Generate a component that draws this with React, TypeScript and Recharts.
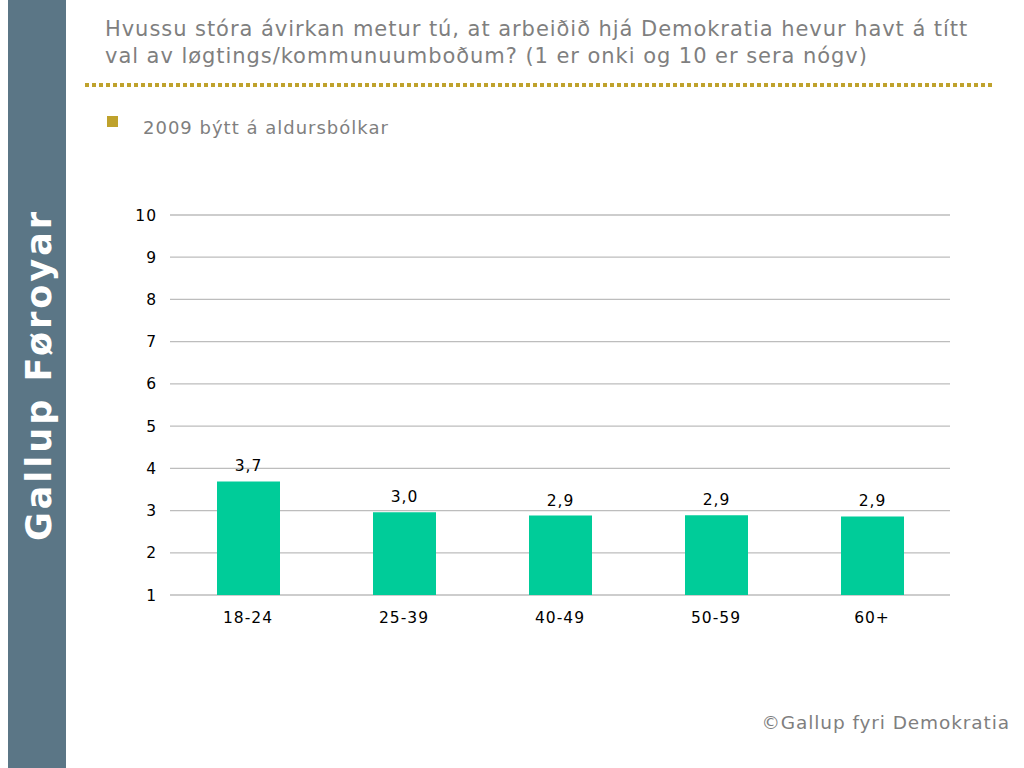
import { Bar, BarChart, CartesianGrid, LabelList, XAxis, YAxis } from "recharts";

const ageGroups: string[] = ["18-24", "25-39", "40-49", "50-59", "60+"];
const scores: number[] = [3.69, 2.96, 2.88, 2.89, 2.86];
const yTicks: number[] = [1, 2, 3, 4, 5, 6, 7, 8, 9, 10];

const data = ageGroups.map((name, i) => ({ name, value: scores[i] }));

const FONT = "'DejaVu Sans', Verdana, sans-serif";
const GRAY = "#7f7f7f";
const GOLD = "#bfa22c";

const fmt = (v: any) => Number(v).toFixed(1).replace(".", ",");

const tickStyle = { fill: "#000", fontSize: 15.5, fontFamily: FONT, letterSpacing: 1 };

export default function App() {
  return (
    <div
      style={{
        position: "absolute",
        left: 0,
        top: 0,
        width: 1024,
        height: 768,
        background: "#fff",
        fontFamily: FONT,
        overflow: "hidden",
      }}
    >
      {/* side band */}
      <div
        style={{
          position: "absolute",
          left: 8,
          top: 0,
          width: 58,
          height: 768,
          background: "#5b7686",
        }}
      />
      <div
        style={{
          position: "absolute",
          left: 39,
          top: 375,
          transform: "translate(-50%, -50%) rotate(-90deg)",
          color: "#fff",
          fontWeight: "bold",
          fontSize: 35,
          letterSpacing: 3,
          whiteSpace: "nowrap",
        }}
      >
        Gallup Føroyar
      </div>

      {/* title */}
      <div
        style={{
          position: "absolute",
          left: 105,
          top: 16,
          color: GRAY,
          fontSize: 21,
          letterSpacing: 0.95,
          lineHeight: "27px",
          whiteSpace: "nowrap",
        }}
      >
        Hvussu stóra ávirkan metur tú, at arbeiðið hjá Demokratia hevur havt á títt
        <br />
        val av løgtings/kommunuumboðum? (1 er onki og 10 er sera nógv)
      </div>
      <div
        style={{
          position: "absolute",
          left: 85,
          top: 83,
          width: 910,
          height: 4,
          background: `repeating-linear-gradient(to right, ${GOLD} 0px, ${GOLD} 4px, transparent 4px, transparent 7px)`,
        }}
      />

      {/* subtitle */}
      <div
        style={{
          position: "absolute",
          left: 107,
          top: 116,
          width: 11,
          height: 11,
          background: GOLD,
        }}
      />
      <div
        style={{
          position: "absolute",
          left: 143,
          top: 117,
          color: GRAY,
          fontSize: 18,
          letterSpacing: 1,
          whiteSpace: "nowrap",
        }}
      >
        2009 býtt á aldursbólkar
      </div>

      <div style={{ position: "absolute", left: 0, top: 0 }}>
        <BarChart
          width={1024}
          height={768}
          data={data}
          margin={{ top: 215, right: 74, bottom: 143, left: 130 }}
        >
          <CartesianGrid vertical={false} stroke="#bdbdbd" strokeWidth={1.3} />
          <XAxis
            dataKey="name"
            axisLine={false}
            tickLine={false}
            height={30}
            tick={tickStyle}
            tickMargin={11}
          />
          <YAxis
            type="number"
            domain={[1, 10]}
            ticks={yTicks}
            interval={0}
            axisLine={false}
            tickLine={false}
            width={40}
            tickMargin={7}
            tick={tickStyle}
          />
          <Bar dataKey="value" fill="#00cc99" barSize={63} isAnimationActive={false}>
            <LabelList
              dataKey="value"
              position="top"
              offset={10}
              formatter={fmt}
              style={tickStyle}
            />
          </Bar>
        </BarChart>
      </div>

      {/* footer */}
      <div
        style={{
          position: "absolute",
          right: 14,
          top: 712,
          color: GRAY,
          fontSize: 18.5,
          letterSpacing: 0.9,
          whiteSpace: "nowrap",
        }}
      >
        ©Gallup fyri Demokratia
      </div>
    </div>
  );
}
